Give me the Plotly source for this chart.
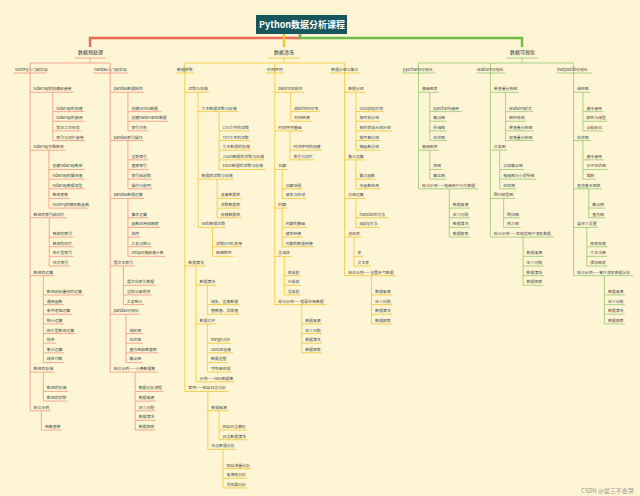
import plotly.graph_objects as go

# ---- data: mind-map content ----
root_title = "Python数据分析课程"
main_topics = ["数据预处理", "数据清洗", "数据可视化"]

numpy_topics = [
    ("Ndarray的创建和使用", ["Ndarray的创建", "Ndarray的使用", "常见工作任务", "索引与切片使用"]),
    ("Ndarray多维数组", ["创建Ndarray数组", "Ndarray的属性值", "Ndarray数据类型", "数组变换", "NumPy的随机数函数"]),
    ("数组的索引和切片", ["数组的索引", "数组的切片", "布尔型索引", "花式索引"]),
    ("数组的运算", ["数组和标量间的运算", "通用函数", "条件逻辑运算", "统计运算", "布尔型数组运算", "排序", "集合运算", "线性代数"]),
    ("数组的存储", ["数组的存储", "数组的读取"]),
    ("综合示例", ["图像变换"]),
]
pandas_topics = [
    ("pandas数据结构", ["创建Series数据", "创建DataFrame数据", "索引对象"]),
    ("pandas索引操作", ["重新索引", "更换索引", "索引和选取", "操作行和列"]),
    ("pandas数据运算", ["算术运算", "函数应用和映射", "排序", "汇总与统计", "unique值和值计数"]),
    ("层次化索引", ["层次化索引数据", "重排分级顺序", "汇总统计"]),
    ("pandas可视化", ["线形图", "柱状图", "直方图和密度图", "散点图"]),
    ("综合示例——小费数据集", ["数据分析流程", "数据来源", "定义问题", "数据清洗", "数据探索"]),
]
acquire_topics = [
    ("读取与存储", [
        ("文本数据读取与存储", ["CSV文件的读取", "TXT文件的读取", "文本数据的存储", "JSON数据的读取与存储", "Excel数据的读取与存储"]),
        ("数据库读取与存储", ["连接数据库", "读取数据库", "存储数据库"]),
        ("Web数据读取", ["读取HTML表格", "网络爬虫"]),
    ]),
    ("数据清洗", [
        ("数据清洗", ["缺失、重复数据", "替换值、异常值"]),
        ("数据合并", ["merge合并", "concat连接", "数据重塑", "字符串处理"]),
        ("示例——NBA数据集", []),
    ]),
    ("案例——网站日志分析", [
        ("数据来源", ["网站日志解析", "日志数据清洗"]),
        ("日志数据分析", ["网站流量分析", "来源地分析", "浏览器分析"]),
    ]),
]
timeseries_topics = [
    ("datetime模块", ["datetime对象", "时间转换"]),
    ("时间序列基础", ["时间序列的创建", "索引与切片"]),
    ("日期", ["日期范围", "频率与移动"]),
    ("时期", ["时期的基础", "频率转换", "时期的数据转换"]),
    ("重采样", ["降采样", "升采样", "重采样"]),
    ("综合示例——股票价格数据", ["数据来源", "定义问题", "数据清洗", "数据探索"]),
]
group_topics = [
    ("数据分组", ["GroupBy对象", "按列名分组", "按列表或元组分组", "按字典分组", "按函数分组"]),
    ("聚合运算", ["聚合函数", "多函数应用"]),
    ("分组运算", ["transform方法", "apply方法"]),
    ("透视表", ["表", "交叉表"]),
    ("综合示例——全国天气数据", ["数据来源", "定义问题", "数据清洗", "数据探索"]),
]
pyecharts_topics = [
    ("基础图表", ["pyecharts使用", "散点图", "折线图", "柱状图"]),
    ("高级图表", ["饼图", "雷达图"]),
    ("综合示例——电商用户行为数据", ["数据来源", "定义问题", "数据清洗", "数据探索"]),
]
seaborn_topics = [
    ("单变量分布图", ["seaborn样式", "图形绘制", "单变量分布图", "双变量分布图"]),
    ("分类图", ["分类散点图", "箱线图与小提琴图", "柱状图"]),
    ("回归模型图", ["回归图", "热力图"]),
    ("综合示例——某电信用户流失数据", ["数据来源", "定义问题", "数据清洗", "数据探索"]),
]
matplotlib_topics = [
    ("线形图", ["基本使用", "颜色与线型", "点和标记"]),
    ("柱状图", ["基本使用", "水平柱状图", "堆积"]),
    ("其他基本图表", ["散点图", "直方图"]),
    ("自定义设置", ["图表布局", "文本注释", "保存图表"]),
    ("综合示例——客户流失数据分析", ["数据来源", "定义问题", "数据清洗", "数据探索"]),
]

branches = [
    ("NumPy入门和实战", numpy_topics, 0),
    ("Pandas入门和实战", pandas_topics, 0),
    ("数据获取", acquire_topics, 1),
    ("时间序列", timeseries_topics, 1),
    ("数据分组与聚合", group_topics, 1),
    ("pyecharts可视化", pyecharts_topics, 2),
    ("seaborn可视化", seaborn_topics, 2),
    ("matplotlib可视化", matplotlib_topics, 2),
]

# ---- layout ----
BG = "#fdf5d3"
LINE_COLORS = ["#f29483", "#f3c530", "#94c873"]
MAIN_COLORS = ["#ec6a59", "#f3c530", "#6dbd47"]
FONT = "Noto Sans CJK SC"
FS = 3.9
STEP = 9.65
main_x = [90, 284, 522]
branch_x = [15, 94, 177, 267, 331, 403, 477, 557]


def text_w(s):
    return sum(FS * (0.55 if ord(c) < 128 else 1.0) for c in s)


seg = {0: ([], []), 1: ([], []), 2: ([], [])}
labels = {"x": [], "y": [], "t": []}


def line(ci, x0, y0, x1, y1):
    xs, ys = seg[ci]
    xs += [x0, x1, None]
    ys += [y0, y1, None]


def place(ci, label, children, tx, y, parent_trunk):
    w = text_w(label)
    labels["x"].append(tx); labels["y"].append(y); labels["t"].append(label)
    uy = y + 3
    line(ci, parent_trunk, uy, tx + w + 1.5, uy)
    last = y
    if children:
        trunk = tx + w / 2
        cy = y + 2 * STEP
        last_u = uy
        for ch in children:
            if isinstance(ch, tuple):
                lab, sub = ch
            else:
                lab, sub = ch, []
            end = place(ci, lab, sub, trunk + 3.5, cy, trunk)
            last_u = cy + 3
            last = end
            cy = end + STEP
        line(ci, trunk, uy, trunk, last_u)
    return last


fig = go.Figure()
shapes = []

# root
rx0, rx1, ry0, ry1 = 256, 347, 15, 34
shapes.append(dict(type="rect", x0=rx0, x1=rx1, y0=ry0, y1=ry1, fillcolor="#17565c", line=dict(width=0), layer="below"))
conn_y = 38
for i, mx in enumerate(main_x):
    sx = 300 if i != 1 else mx
    xs = [sx, sx, mx, mx] if i != 1 else [mx, mx]
    ys = [ry1, conn_y, conn_y, 47] if i != 1 else [ry1, 47]
    fig.add_trace(go.Scatter(x=xs, y=ys, mode="lines", line=dict(color=MAIN_COLORS[i], width=2.4),
                             hoverinfo="skip", showlegend=False))

# main topics
for i, (name, mx) in enumerate(zip(main_topics, main_x)):
    fig.add_annotation(x=mx, y=52, text=name, showarrow=False, font=dict(family=FONT, size=5, color="#333"))
    line(i, mx - 16, 58, mx + 16, 58)
    line(i, mx, 58, mx, 63)

# branches
groups = {}
for (name, topics, ci), bx in zip(branches, branch_x):
    w = text_w(name)
    trunk = bx + w / 2
    groups.setdefault(ci, []).append(trunk)
    y = 70
    labels["x"].append(bx); labels["y"].append(y); labels["t"].append(name)
    line(ci, bx - 1, y + 3, bx + w + 1.5, y + 3)
    cy = y + 2 * STEP
    last_u = y + 3
    for lab, sub in topics:
        end = place(ci, lab, sub, trunk + 3.5, cy, trunk)
        last_u = cy + 3
        cy = end + STEP
    line(ci, trunk, 63, trunk, last_u)
for ci, trunks in groups.items():
    line(ci, min(trunks), 63, max(trunks), 63)

for ci in range(3):
    xs, ys = seg[ci]
    fig.add_trace(go.Scatter(x=xs, y=ys, mode="lines", line=dict(color=LINE_COLORS[ci], width=0.8),
                             hoverinfo="skip", showlegend=False))

fig.add_trace(go.Scatter(x=labels["x"], y=labels["y"], text=labels["t"], mode="text",
                         textposition="middle right", textfont=dict(family=FONT, size=FS, color="#444"),
                         hoverinfo="skip", showlegend=False))

fig.add_annotation(x=(rx0 + rx1) / 2, y=(ry0 + ry1) / 2, text="<b>" + root_title + "</b>", showarrow=False,
                   font=dict(family=FONT, size=9, color="white"))
fig.add_annotation(x=636, y=490, text="CSDN @晨三不会哭", showarrow=False, xanchor="right",
                   font=dict(family=FONT, size=6, color="#999"))

fig.update_layout(
    width=640, height=496, margin=dict(l=0, r=0, t=0, b=0),
    paper_bgcolor=BG, plot_bgcolor=BG, shapes=shapes,
    xaxis=dict(range=[0, 640], visible=False, fixedrange=True),
    yaxis=dict(range=[496, 0], visible=False, fixedrange=True),
)
fig.write_html("out.html", config={"displayModeBar": False},
               post_script="document.body.style.margin='0';")
